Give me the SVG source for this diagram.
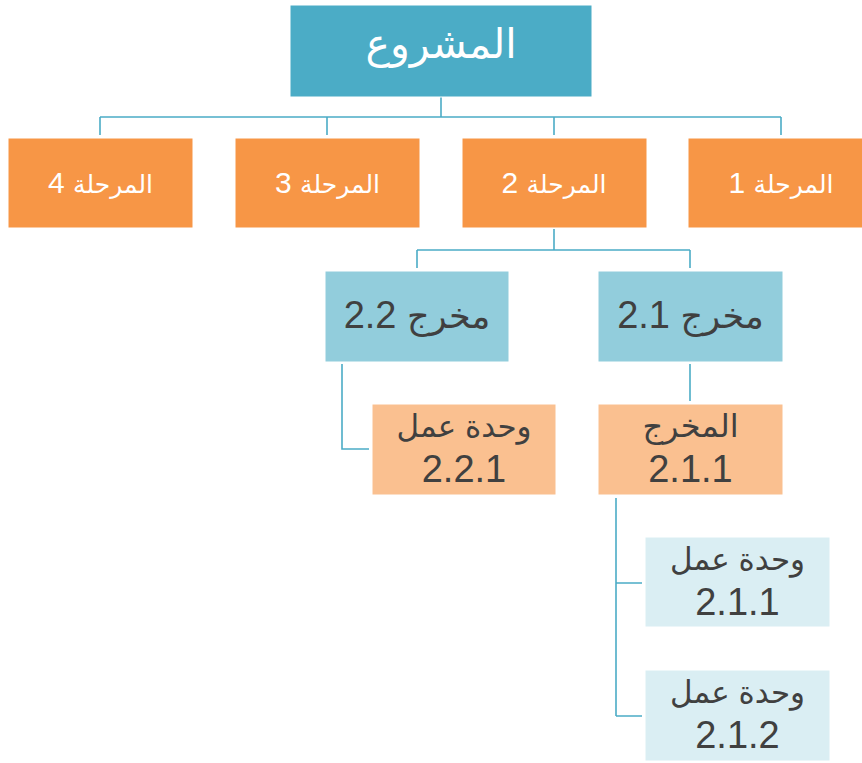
<svg xmlns="http://www.w3.org/2000/svg" width="862" height="763" viewBox="0 0 862 763">
  <style>
    .box { stroke: #ffffff; stroke-width: 1; }
    .root { fill: #4BACC6; }
    .phase { fill: #F79646; }
    .out { fill: #92CDDC; }
    .pkg { fill: #FAC090; }
    .unit { fill: #DAEEF3; }
    .lbl { font-family: "Liberation Sans", "DejaVu Sans", Arial, sans-serif; text-anchor: middle; direction: rtl; }
    .light { fill: #ffffff; }
    .dark { fill: #404040; }
    .ar-phase { font-size: 25px; }
    .ar-out { font-size: 35px; }
    .ar-unit { font-size: 31px; }
    .links path { fill: none; stroke: #4BACC6; stroke-width: 1.6; }
  </style>

  <rect width="862" height="763" fill="#ffffff"/>

  <!-- connectors -->
  <g id="connectors" class="links">
    <path d="M441 97 V117 M100 117 H781 M100 117 V135 M327 117 V135 M554 117 V135 M781 117 V135"/>
    <path d="M554 229 V250 M417 250 H690 M417 250 V268 M690 250 V268"/>
    <path d="M342 364 V449 H369"/>
    <path d="M690 364 V401"/>
    <path d="M616 498 V716 M616 583 H642 M616 716 H642"/>
  </g>

  <!-- root -->
  <g id="project">
    <rect class="box root" x="290" y="5" width="302" height="92"/>
    <text class="lbl light" x="441" y="58" font-size="41">المشروع</text>
  </g>

  <!-- phases -->
  <g id="phase4">
    <rect class="box phase" x="8" y="138" width="185" height="90"/>
    <text class="lbl light" x="100.5" y="193" font-size="30"><tspan class="ar-phase">المرحلة</tspan> 4</text>
  </g>
  <g id="phase3">
    <rect class="box phase" x="235" y="138" width="185" height="90"/>
    <text class="lbl light" x="327.5" y="193" font-size="30"><tspan class="ar-phase">المرحلة</tspan> 3</text>
  </g>
  <g id="phase2">
    <rect class="box phase" x="462" y="138" width="185" height="90"/>
    <text class="lbl light" x="554" y="193" font-size="30"><tspan class="ar-phase">المرحلة</tspan> 2</text>
  </g>
  <g id="phase1">
    <rect class="box phase" x="688" y="138" width="185" height="90"/>
    <text class="lbl light" x="781" y="193" font-size="30"><tspan class="ar-phase">المرحلة</tspan> 1</text>
  </g>

  <!-- outputs of phase 2 -->
  <g id="output22">
    <rect class="box out" x="325" y="271" width="184" height="91"/>
    <text class="lbl dark" x="417" y="328" font-size="38"><tspan class="ar-out">مخرج</tspan> 2.2</text>
  </g>
  <g id="output21">
    <rect class="box out" x="598" y="271" width="185" height="91"/>
    <text class="lbl dark" x="690.5" y="328" font-size="38"><tspan class="ar-out">مخرج</tspan> 2.1</text>
  </g>

  <!-- work packages -->
  <g id="work221">
    <rect class="box pkg" x="372" y="404" width="184" height="91"/>
    <text class="lbl dark ar-unit" x="464" y="437">وحدة عمل</text>
    <text class="lbl dark" x="464" y="482" font-size="38">2.2.1</text>
  </g>
  <g id="output211">
    <rect class="box pkg" x="598" y="404" width="185" height="91"/>
    <text class="lbl dark" x="690.5" y="437" font-size="32">المخرج</text>
    <text class="lbl dark" x="690.5" y="482" font-size="38">2.1.1</text>
  </g>

  <!-- work units -->
  <g id="work211">
    <rect class="box unit" x="645" y="537" width="185" height="90"/>
    <text class="lbl dark ar-unit" x="737.5" y="570">وحدة عمل</text>
    <text class="lbl dark" x="737.5" y="615" font-size="38">2.1.1</text>
  </g>
  <g id="work212">
    <rect class="box unit" x="645" y="670" width="185" height="91"/>
    <text class="lbl dark ar-unit" x="737.5" y="703">وحدة عمل</text>
    <text class="lbl dark" x="737.5" y="748" font-size="38">2.1.2</text>
  </g>
</svg>
